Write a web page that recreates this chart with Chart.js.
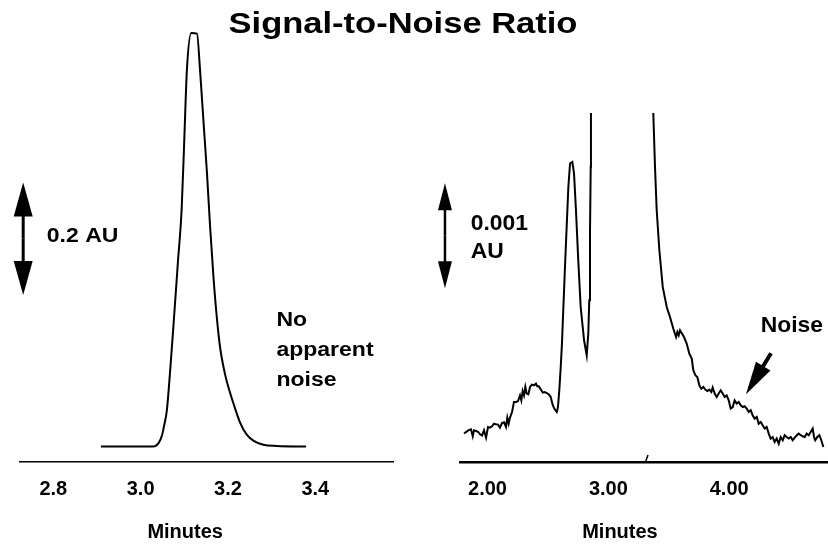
<!DOCTYPE html>
<html>
<head>
<meta charset="utf-8">
<script src="https://cdn.jsdelivr.net/npm/chart.js@4.4.1/dist/chart.umd.min.js"></script>
<style>
  body { margin: 0; background: #fff; }
  #wrap { position: relative; width: 828px; height: 545px; overflow: hidden; }
  #wrap canvas { position: absolute; top: 0; }
  #title {
    position: absolute; top: 8px; left: 403px;
    transform: translateX(-50%) scaleX(1.15);
    font: bold 30px "Liberation Sans", Arial, sans-serif;
    line-height: 30px; white-space: nowrap; color: #000;
  }
</style>
</head>
<body>
<div id="wrap">
  <canvas id="leftChart" width="414" height="545" style="left:0"></canvas>
  <canvas id="rightChart" width="414" height="545" style="left:414px"></canvas>
  <div id="title">Signal-to-Noise Ratio</div>
</div>
<script>
// left trace: big peak, no visible noise (minutes / AU)
const leftTime = [2.909, 3.029, 3.041, 3.049, 3.054, 3.060, 3.068, 3.075, 3.085, 3.094,
  3.100, 3.106, 3.116, 3.129, 3.136, 3.144, 3.152, 3.159, 3.167, 3.175,
  3.182, 3.194, 3.205, 3.217, 3.228, 3.243, 3.259, 3.281, 3.312, 3.379];
const leftAbs = [0, 0, 0.006, 0.020, 0.038, 0.064, 0.139, 0.213, 0.324, 0.423,
  0.546, 0.670, 0.735, 0.734, 0.670, 0.577, 0.485, 0.392, 0.299, 0.225,
  0.176, 0.126, 0.095, 0.066, 0.042, 0.021, 0.010, 0.003, 0.001, 0];
const leftTicks = [2.8, 3.0, 3.2, 3.4];

// right trace: zoomed baseline (minutes / 0.001 AU), main peak goes off scale
const rightTime = [1.806, 1.841, 1.863, 1.878, 1.888, 1.911, 1.924, 1.938, 1.955, 1.971,
  1.988, 2.004, 2.021, 2.037, 2.054, 2.070, 2.087, 2.103, 2.120, 2.137,
  2.153, 2.164, 2.175, 2.186, 2.203, 2.219, 2.236, 2.252, 2.269, 2.280,
  2.291, 2.302, 2.313, 2.324, 2.338, 2.352, 2.368, 2.385, 2.401, 2.412,
  2.424, 2.440, 2.457, 2.473, 2.490, 2.506, 2.523, 2.540, 2.556, 2.573,
  2.583, 2.594, 2.606, 2.616, 2.641, 2.669, 2.683, 2.702, 2.716, 2.732,
  2.751, 2.771, 2.799, 2.821, 2.834, 2.842, 2.848, 2.854, 2.856,
  3.11,
  3.372, 3.386, 3.400, 3.422, 3.450, 3.483, 3.510, 3.537, 3.560, 3.571,
  3.582, 3.593, 3.609, 3.626, 3.648, 3.670, 3.690, 3.703, 3.720, 3.736,
  3.753, 3.769, 3.786, 3.802, 3.819, 3.835, 3.852, 3.863, 3.880, 3.897,
  3.913, 3.930, 3.946, 3.963, 3.979, 3.996, 4.012, 4.029, 4.045, 4.062,
  4.079, 4.095, 4.112, 4.128, 4.145, 4.161, 4.178, 4.194, 4.211, 4.228,
  4.244, 4.261, 4.277, 4.294, 4.310, 4.327, 4.343, 4.360, 4.376, 4.393,
  4.410, 4.426, 4.443, 4.459, 4.476, 4.492, 4.509, 4.525, 4.542, 4.559,
  4.575, 4.592, 4.608, 4.625, 4.641, 4.658, 4.674, 4.691, 4.702, 4.712,
  4.729, 4.746, 4.762, 4.779];
const rightAbs = [0.272, 0.303, 0.313, 0.246, 0.303, 0.294, 0.287, 0.265, 0.253, 0.303,
  0.233, 0.335, 0.329, 0.342, 0.367, 0.361, 0.358, 0.329, 0.373, 0.380,
  0.335, 0.425, 0.367, 0.425, 0.478, 0.574, 0.574, 0.581, 0.638, 0.590,
  0.679, 0.638, 0.718, 0.655, 0.648, 0.718, 0.741, 0.734, 0.750, 0.724,
  0.724, 0.696, 0.664, 0.670, 0.660, 0.648, 0.622, 0.543, 0.504, 0.478,
  0.526, 0.686, 0.909, 1.133, 1.866, 2.632, 2.856, 2.871, 2.760, 2.409,
  1.930, 1.483, 1.165, 1.021, 1.229, 1.547, 2.186, 2.823, 3.334,
  30,
  3.334, 2.823, 2.409, 2.026, 1.675, 1.483, 1.388, 1.277, 1.196, 1.244,
  1.212, 1.260, 1.229, 1.196, 1.133, 1.037, 0.989, 0.878, 0.830, 0.813,
  0.734, 0.702, 0.718, 0.693, 0.679, 0.693, 0.670, 0.712, 0.655, 0.622,
  0.655, 0.686, 0.655, 0.622, 0.638, 0.590, 0.511, 0.526, 0.590, 0.559,
  0.574, 0.543, 0.526, 0.533, 0.511, 0.478, 0.495, 0.447, 0.415, 0.431,
  0.367, 0.383, 0.351, 0.320, 0.335, 0.272, 0.224, 0.239, 0.191, 0.224,
  0.176, 0.239, 0.208, 0.256, 0.239, 0.224, 0.239, 0.208, 0.233, 0.256,
  0.272, 0.256, 0.246, 0.239, 0.272, 0.256, 0.287, 0.320, 0.239, 0.208,
  0.239, 0.256, 0.208, 0.144];
const rightTicks = [2, 3, 4];
// little break mark on the right time axis
const breakTime = [3.307, 3.328];
const breakAbs = [0, 0.067];

const FONT = '"Liberation Sans", Arial, sans-serif';

function toPoints(xs, ys) {
  return xs.map((x, i) => ({ x: x, y: ys[i] }));
}

function stretchText(ctx, text, x, y, size, sx) {
  ctx.save();
  ctx.translate(x, y);
  ctx.scale(sx, 1);
  ctx.font = 'bold ' + size + 'px ' + FONT;
  ctx.textBaseline = 'alphabetic';
  ctx.textAlign = 'left';
  ctx.fillText(text, 0, 0);
  ctx.restore();
}

function triangle(ctx, ax, ay, bx, by, cx, cy) {
  ctx.beginPath();
  ctx.moveTo(ax, ay); ctx.lineTo(bx, by); ctx.lineTo(cx, cy);
  ctx.closePath();
  ctx.fill();
}

function arrowHead(ctx, tailX, tailY, tipX, tipY, head, half, width) {
  const a = Math.atan2(tipY - tailY, tipX - tailX);
  const bx = tipX - head * Math.cos(a), by = tipY - head * Math.sin(a);
  ctx.lineWidth = width;
  ctx.beginPath();
  ctx.moveTo(tailX, tailY);
  ctx.lineTo(bx + Math.cos(a) * 2, by + Math.sin(a) * 2);
  ctx.stroke();
  triangle(ctx, tipX, tipY,
    bx + half * Math.sin(a), by - half * Math.cos(a),
    bx - half * Math.sin(a), by + half * Math.cos(a));
}

// scale bars, labels and arrows, placed in data units
const annotate = {
  id: 'annotate',
  afterDraw(chart, args, opts) {
    const ctx = chart.ctx;
    const xs = chart.scales.x, ys = chart.scales.y;
    const px = v => xs.getPixelForValue(v);
    const py = v => ys.getPixelForValue(v);
    ctx.save();
    ctx.fillStyle = '#000';
    ctx.strokeStyle = '#000';

    const b = opts.scaleBar;
    const bx = px(b.x), yTop = py(b.to), yBot = py(b.from);
    arrowHead(ctx, bx, (yTop + yBot) / 2, bx, yTop, b.head, b.half, b.width);
    arrowHead(ctx, bx, (yTop + yBot) / 2, bx, yBot, b.head, b.half, b.width);

    opts.labels.forEach(l => stretchText(ctx, l.text, px(l.x), py(l.y), opts.size, opts.stretch));

    if (opts.arrow) {
      const a = opts.arrow;
      arrowHead(ctx, px(a.x0), py(a.y0), px(a.x1), py(a.y1), a.head, a.half, a.width);
    }

    ctx.font = 'bold 20px ' + FONT;
    ctx.textAlign = 'center';
    ctx.textBaseline = 'middle';
    ctx.fillText('Minutes', px(opts.axisTitleX), chart.chartArea.bottom + 70);
    ctx.restore();
  }
};

function xAxis(min, max, ticks, digits, borderWidth) {
  return {
    type: 'linear',
    min: min,
    max: max,
    afterBuildTicks: s => { s.ticks = ticks.map(v => ({ value: v })); },
    afterFit: s => { s.height = 83; },
    ticks: {
      callback: v => Number(v).toFixed(digits),
      color: '#000',
      font: { family: FONT, size: 20, weight: 'bold' },
      padding: 15,
      maxRotation: 0,
      autoSkip: false
    },
    grid: { display: false, drawTicks: false },
    border: { display: true, color: '#000', width: borderWidth }
  };
}

function baseOptions(padding) {
  return {
    responsive: false,
    animation: false,
    layout: { padding: padding },
    plugins: { legend: { display: false }, tooltip: { enabled: false } }
  };
}

// left panel
const leftOptions = baseOptions({ left: 20, right: 21, top: 20, bottom: 0 });
leftOptions.scales = {
  x: xAxis(2.7237, 3.578, leftTicks, 1, 1.5),
  y: { display: false, min: -0.02756, max: 0.7582 }
};
leftOptions.plugins.annotate = {
  size: 20,
  stretch: 1.15,
  scaleBar: { x: 2.731, from: 0.2693, to: 0.4693, head: 34, half: 9.5, width: 3 },
  labels: [
    { text: '0.2 AU', x: 2.785, y: 0.364 },
    { text: 'No', x: 3.311, y: 0.214 },
    { text: 'apparent', x: 3.311, y: 0.161 },
    { text: 'noise', x: 3.311, y: 0.108 }
  ],
  axisTitleX: 3.102
};

new Chart(document.getElementById('leftChart'), {
  type: 'line',
  data: {
    datasets: [{
      data: toPoints(leftTime, leftAbs),
      borderColor: '#000',
      borderWidth: 2,
      pointRadius: 0,
      cubicInterpolationMode: 'monotone',
      fill: false
    }]
  },
  options: leftOptions,
  plugins: [annotate]
});

// right panel
const rightOptions = baseOptions({ left: 46, right: 0, top: 113, bottom: 0 });
rightOptions.scales = {
  x: xAxis(1.7724, 4.8175, rightTicks, 2, 2.5),
  y: { display: false, min: 0, max: 3.3397 }
};
rightOptions.plugins.annotate = {
  size: 22,
  stretch: 1.04,
  scaleBar: { x: 1.648, from: 1.662, to: 2.667, head: 27, half: 7, width: 2.5 },
  labels: [
    { text: '0.001', x: 1.861, y: 2.220 },
    { text: 'AU', x: 1.861, y: 1.955 },
    { text: 'Noise', x: 4.261, y: 1.241 }
  ],
  arrow: { x0: 4.346, y0: 1.040, x1: 4.139, y1: 0.648, head: 33, half: 8.5, width: 4 },
  axisTitleX: 3.096
};

new Chart(document.getElementById('rightChart'), {
  type: 'line',
  data: {
    datasets: [{
      data: toPoints(rightTime, rightAbs),
      borderColor: '#000',
      borderWidth: 2,
      pointRadius: 0,
      tension: 0,
      fill: false
    }, {
      data: toPoints(breakTime, breakAbs),
      borderColor: '#000',
      borderWidth: 1.5,
      pointRadius: 0,
      fill: false
    }]
  },
  options: rightOptions,
  plugins: [annotate]
});
</script>
</body>
</html>
